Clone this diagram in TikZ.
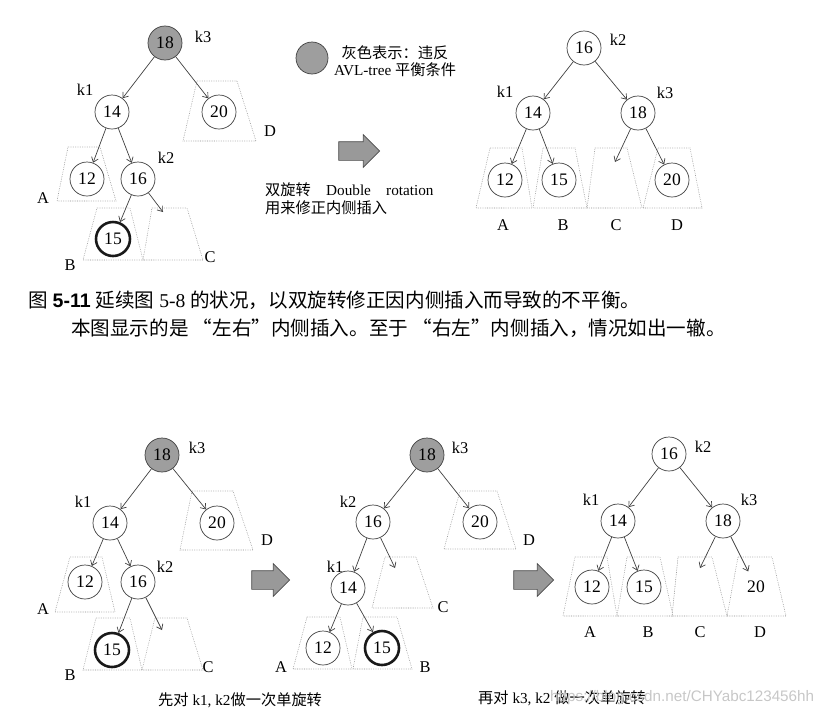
\documentclass[tikz,border=0pt]{standalone}
\usepackage{fontspec}
\setmainfont{Liberation Serif}
\newfontfamily\cjk{Noto Sans CJK SC}
\newfontfamily\arial{Liberation Sans}
\usetikzlibrary{arrows.meta,shapes.arrows}

\begin{document}
\begin{tikzpicture}[
  x=0.03cm, y=-0.03cm,
  >={Straight Barb[length=4pt,width=6pt]},
  nd/.style={circle, draw=black!75, line width=0.6pt, minimum size=1.02cm, inner sep=0pt, font=\fontsize{15}{15}\selectfont},
  bad/.style={nd, fill=black!38},
  new/.style={nd, draw=black!90, line width=2.2pt},
  kk/.style={font=\fontsize{14}{14}\selectfont},
  sub/.style={draw=black!45, densely dotted, line width=0.5pt},
  ed/.style={->, draw=black!75, line width=0.6pt},
  fat/.style={single arrow, draw=black!70, fill=black!40, line width=0.6pt, minimum width=0.96cm, single arrow head extend=0.21cm, inner xsep=0pt, inner ysep=0.27cm},
  zh/.style={anchor=west, inner sep=0pt, font=\fontsize{13}{15}\selectfont}
]
  \useasboundingbox (0,0) rectangle (824,722);

  % subtrees (top)
  \draw[sub] (68,147) -- (100,147) -- (116,201) -- (57,201) -- cycle;
  \draw[sub] (97,208) -- (130,208) -- (143,260) -- (83,260) -- cycle;
  \draw[sub] (152,208) -- (187,208) -- (203,260) -- (143,260) -- cycle;
  \draw[sub] (197,81) -- (237,81) -- (256,141) -- (183,141) -- cycle;
  \draw[sub] (490,148) -- (522,148) -- (532,208) -- (476,208) -- cycle;
  \draw[sub] (543,148) -- (575,148) -- (587,208) -- (533,208) -- cycle;
  \draw[sub] (595,148) -- (627,148) -- (642,208) -- (587,208) -- cycle;
  \draw[sub] (658,148) -- (690,148) -- (702,208) -- (643,208) -- cycle;
  % subtrees (bottom)
  \draw[sub] (70,557) -- (102,557) -- (115,612) -- (55,612) -- cycle;
  \draw[sub] (96,618) -- (130,618) -- (142,670) -- (83,670) -- cycle;
  \draw[sub] (155,618) -- (187,618) -- (203,670) -- (142,670) -- cycle;
  \draw[sub] (192,491) -- (233,491) -- (253,550) -- (180,550) -- cycle;
  \draw[sub] (460,491) -- (497,491) -- (516,549) -- (444,549) -- cycle;
  \draw[sub] (385,557) -- (416,557) -- (433,608) -- (372,608) -- cycle;
  \draw[sub] (307,617) -- (340,617) -- (352,669) -- (293,669) -- cycle;
  \draw[sub] (363,617) -- (397,617) -- (412,669) -- (353,669) -- cycle;
  \draw[sub] (575,557) -- (607,557) -- (617,616) -- (563,616) -- cycle;
  \draw[sub] (627,557) -- (660,557) -- (673,616) -- (617,616) -- cycle;
  \draw[sub] (678,557) -- (712,557) -- (727,616) -- (672,616) -- cycle;
  \draw[sub] (738,557) -- (772,557) -- (786,616) -- (727,616) -- cycle;

  % before: left-right insertion
  \node[bad] (a18) at (165,43)  {18};
  \node[nd]  (a14) at (112,112) {14};
  \node[nd]  (a20) at (219,112) {20};
  \node[nd]  (a12) at (87,179)  {12};
  \node[nd]  (a16) at (138,179) {16};
  \node[new] (a15) at (113,239) {15};
  \coordinate (aC) at (163,212);
  \node[kk] (a18k) at (203,37)  {k3};
  \node[kk] (a14k) at (85,90)   {k1};
  \node[kk] (a16k) at (166,158) {k2};
  \node[kk] (aA) at (43,198)  {A};
  \node[kk] (aB) at (70,265)  {B};
  \node[kk] (aCk) at (210,257) {C};
  \node[kk] (aD) at (270,131) {D};
  \draw[ed] (a18) -- (a14);  \draw[ed] (a18) -- (a20);
  \draw[ed] (a14) -- (a12);  \draw[ed] (a14) -- (a16);
  \draw[ed] (a16) -- (a15);  \draw[ed] (a16) -- (aC);

  % legend + double rotation
  \node[bad, minimum size=0.96cm] (key) at (312,58) {};
  \node[align=center, font=\fontsize{13}{14.5}\selectfont] (keytxt) at (395,61)
    {{\cjk 灰色表示：违反}\\AVL-tree {\cjk 平衡条件}};
  \node[fat, minimum height=1.23cm] (go) at (354.5,151) {};
  \node[zh, align=left, font=\fontsize{13}{15.4}\selectfont] (rot) at (265,199)
    {{\cjk 双旋转}\quad Double\quad rotation\\{\cjk 用来修正内侧插入}};

  % after
  \node[nd] (b16) at (584,48)  {16};
  \node[nd] (b14) at (533,113) {14};
  \node[nd] (b18) at (638,113) {18};
  \node[nd] (b12) at (505,180) {12};
  \node[nd] (b15) at (559,180) {15};
  \node[nd] (b20) at (672,180) {20};
  \coordinate (bC) at (615,162);
  \node[kk] (b16k) at (618,40) {k2};
  \node[kk] (b14k) at (505,92) {k1};
  \node[kk] (b18k) at (665,93) {k3};
  \node[kk] (bA) at (503,225) {A};
  \node[kk] (bB) at (563,225) {B};
  \node[kk] (bCk) at (616,225) {C};
  \node[kk] (bD) at (677,225) {D};
  \draw[ed] (b16) -- (b14);  \draw[ed] (b16) -- (b18);
  \draw[ed] (b14) -- (b12);  \draw[ed] (b14) -- (b15);
  \draw[ed] (b18) -- (bC);   \draw[ed] (b18) -- (b20);

  % caption
  \node[anchor=west, inner sep=0pt, font=\fontsize{16.7}{16.7}\selectfont] (cap1) at (28,300)
    {{\cjk 图} {\arial\bfseries 5-11} {\cjk 延续图} 5-8 {\cjk 的状况，以双旋转修正因内侧插入而导致的不平衡。}};
  \node[anchor=west, inner sep=0pt, font=\fontsize{16.7}{16.7}\selectfont] (cap2) at (71,328)
    {\cjk 本图显示的是 “左右”内侧插入。至于 “右左”内侧插入，情况如出一辙。};

  % step 1
  \node[bad] (c18) at (162,455) {18};
  \node[nd]  (c14) at (110,523) {14};
  \node[nd]  (c20) at (217,523) {20};
  \node[nd]  (c12) at (85,582)  {12};
  \node[nd]  (c16) at (138,582) {16};
  \node[new] (c15) at (112,650) {15};
  \coordinate (cC) at (162,630);
  \node[kk] (c18k) at (197,448) {k3};
  \node[kk] (c14k) at (83,502)  {k1};
  \node[kk] (c16k) at (165,567) {k2};
  \node[kk] (cA) at (43,609)  {A};
  \node[kk] (cB) at (70,675)  {B};
  \node[kk] (cCk) at (208,667) {C};
  \node[kk] (cD) at (267,540) {D};
  \draw[ed] (c18) -- (c14);  \draw[ed] (c18) -- (c20);
  \draw[ed] (c14) -- (c12);  \draw[ed] (c14) -- (c16);
  \draw[ed] (c16) -- (c15);  \draw[ed] (c16) -- (cC);
  \node[fat, minimum height=1.14cm] (go1) at (266,580) {};
  \node[zh] (step1) at (158,700) {{\cjk 先对} k1, k2{\cjk 做一次单旋转}};

  % step 2
  \node[bad] (d18) at (427,455) {18};
  \node[nd]  (d16) at (373,522) {16};
  \node[nd]  (d20) at (480,522) {20};
  \node[nd]  (d14) at (348,588) {14};
  \node[nd]  (d12) at (323,648) {12};
  \node[new] (d15) at (382,648) {15};
  \coordinate (dC) at (395,568);
  \node[kk] (d18k) at (460,448) {k3};
  \node[kk] (d16k) at (348,502) {k2};
  \node[kk] (d14k) at (335,567) {k1};
  \node[kk] (dA) at (281,667) {A};
  \node[kk] (dB) at (425,667) {B};
  \node[kk] (dCk) at (443,607) {C};
  \node[kk] (dD) at (529,540) {D};
  \draw[ed] (d18) -- (d16);  \draw[ed] (d18) -- (d20);
  \draw[ed] (d16) -- (d14);  \draw[ed] (d16) -- (dC);
  \draw[ed] (d14) -- (d12);  \draw[ed] (d14) -- (d15);
  \node[fat, minimum height=1.2cm] (go2) at (529,580) {};

  % step 3
  \node[nd] (e16) at (669,454) {16};
  \node[nd] (e14) at (618,521) {14};
  \node[nd] (e18) at (723,521) {18};
  \node[nd] (e12) at (592,587) {12};
  \node[nd] (e15) at (644,587) {15};
  \node[nd, draw=none] (e20) at (756,587) {20};
  \coordinate (eC) at (700,568);
  \node[kk] (e16k) at (703,447) {k2};
  \node[kk] (e14k) at (591,500) {k1};
  \node[kk] (e18k) at (749,500) {k3};
  \node[kk] (eA) at (590,632) {A};
  \node[kk] (eB) at (648,632) {B};
  \node[kk] (eCk) at (700,632) {C};
  \node[kk] (eD) at (760,632) {D};
  \draw[ed] (e16) -- (e14);  \draw[ed] (e16) -- (e18);
  \draw[ed] (e14) -- (e12);  \draw[ed] (e14) -- (e15);
  \draw[ed] (e18) -- (eC);   \draw[ed] (e18) -- (e20);
  \node[zh] (step2) at (478,698) {{\cjk 再对} k3, k2 {\cjk 做一次单旋转}};
  \node[anchor=west, inner sep=0pt, font=\arial\fontsize{13}{13}\selectfont, text=black!22] (mark) at (550,698)
    {https://blog.csdn.net/CHYabc123456hh};
\end{tikzpicture}
\end{document}
